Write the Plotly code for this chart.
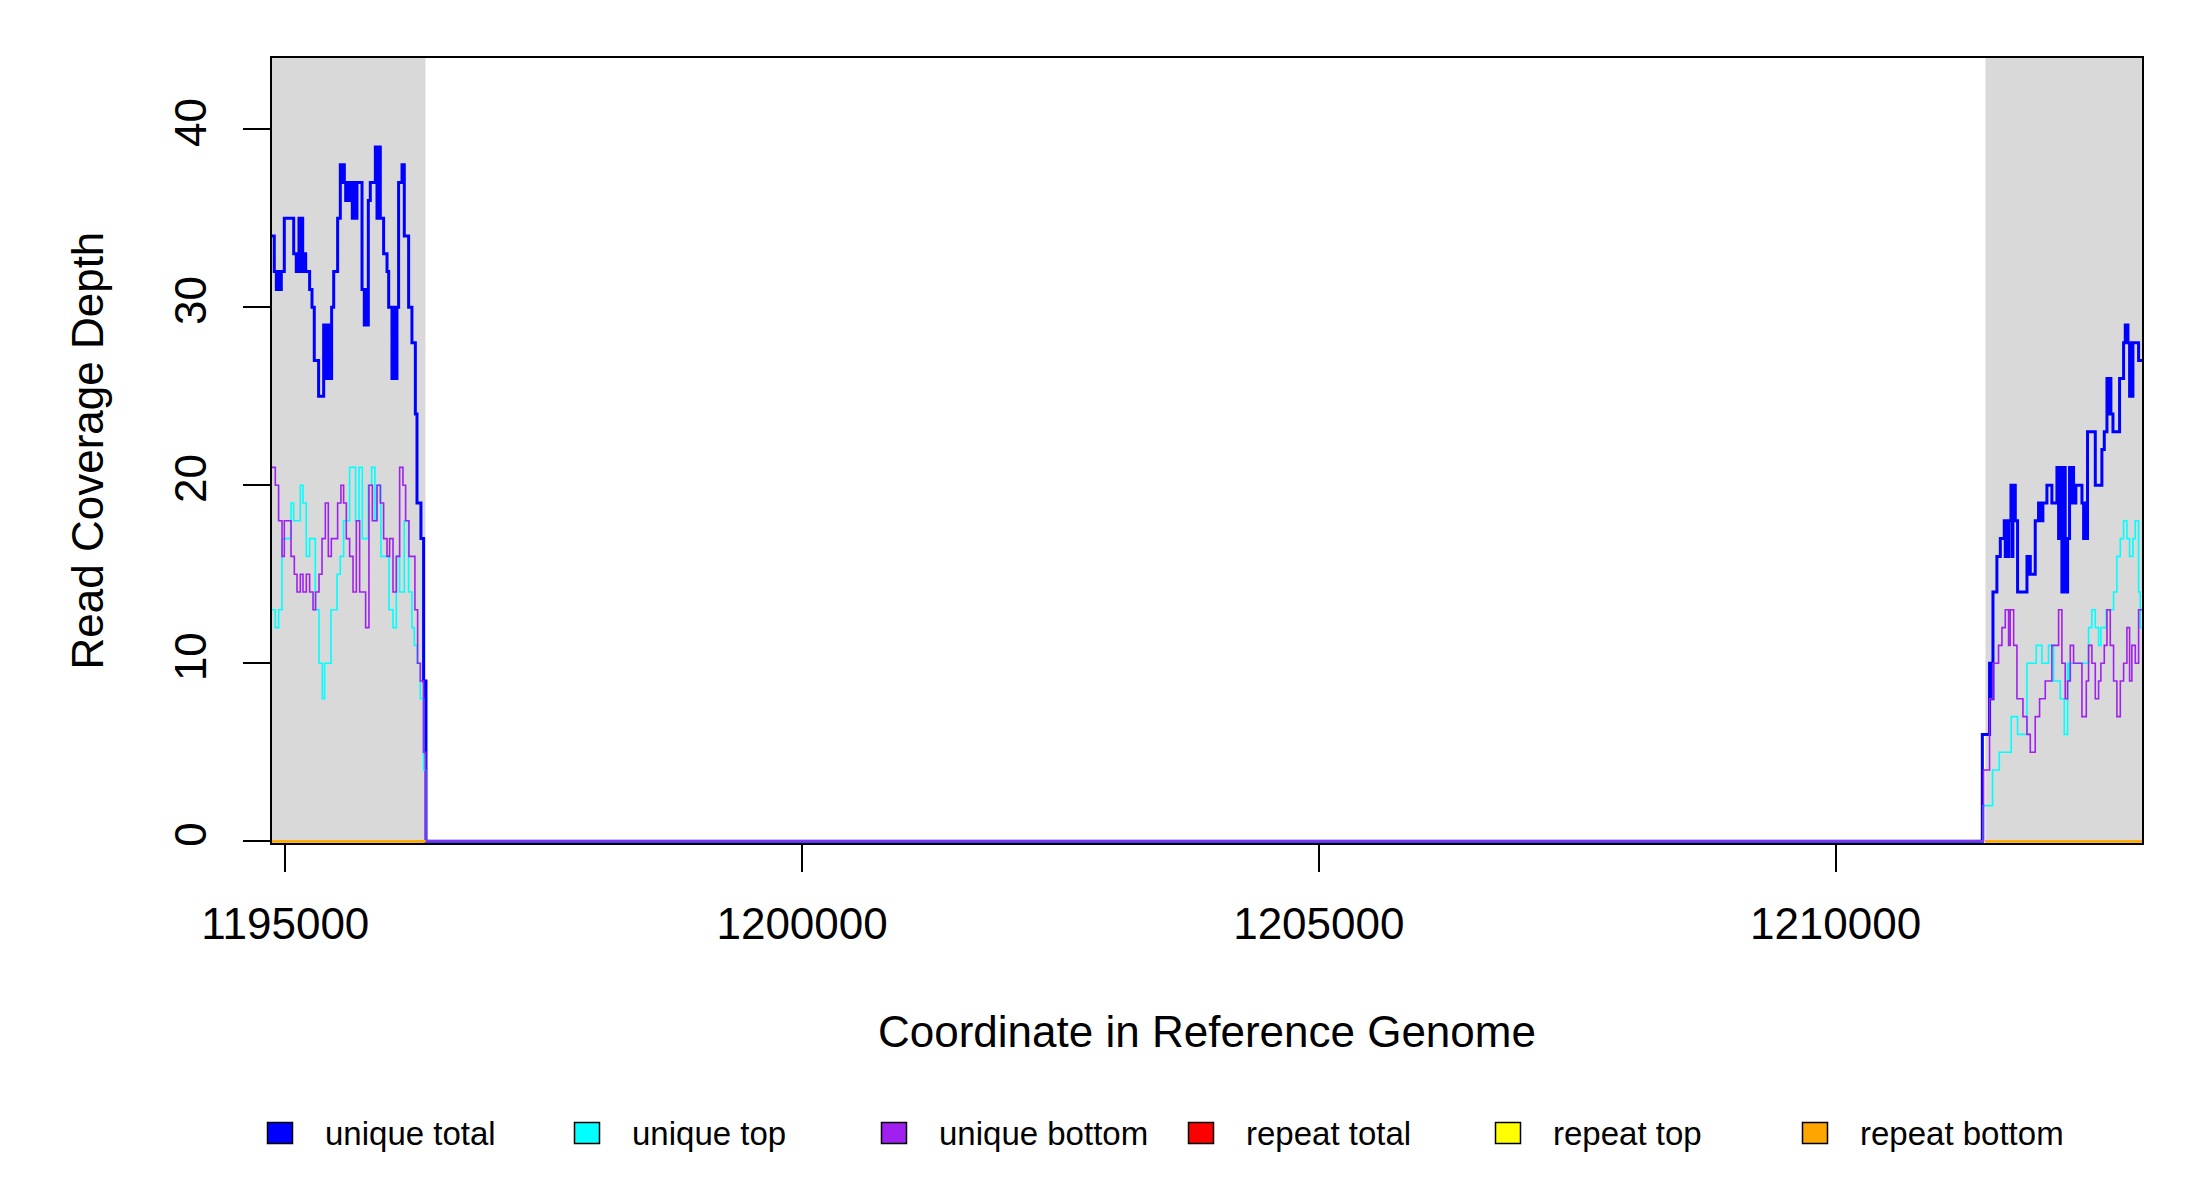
import plotly.graph_objects as go

# genome window shown and the two flanking (shaded) regions
x_start = 1194871
x_end = 1212965
flank_left = [1194871, 1196356]
flank_right = [1211450, 1212965]

# step data: coordinate where each step begins, and the depth from there on
total_x = [1194871, 1194893, 1194913, 1194922, 1194932, 1194942, 1194951, 1194961,
           1194990, 1195081, 1195106, 1195132, 1195145, 1195158, 1195168, 1195177,
           1195197, 1195235, 1195258, 1195280, 1195322, 1195371, 1195384, 1195397,
           1195409, 1195422, 1195435, 1195448, 1195468, 1195506, 1195532, 1195545,
           1195558, 1195571, 1195584, 1195597, 1195609, 1195622, 1195648, 1195661,
           1195674, 1195693, 1195742, 1195764, 1195777, 1195790, 1195803, 1195822,
           1195871, 1195887, 1195903, 1195919, 1195951, 1195984, 1196000, 1196032,
           1196048, 1196064, 1196080, 1196096, 1196129, 1196137, 1196145, 1196151,
           1196193, 1196225, 1196258, 1196274, 1196312, 1196338, 1196345, 1196351,
           1196361,
           1211420, 1211490, 1211497, 1211503, 1211510, 1211523, 1211561, 1211594,
           1211632, 1211642, 1211652, 1211664, 1211674, 1211697, 1211706, 1211716,
           1211739, 1211761, 1211852, 1211860, 1211868, 1211884, 1211932, 1211964,
           1211974, 1211985, 1211997, 1212006, 1212045, 1212093, 1212142, 1212158,
           1212174, 1212190, 1212206, 1212222, 1212245, 1212264, 1212278, 1212287,
           1212303, 1212315, 1212325, 1212384, 1212400, 1212416, 1212426, 1212438,
           1212513, 1212577, 1212600, 1212626, 1212642, 1212650, 1212664, 1212684,
           1212748, 1212787, 1212803, 1212811, 1212819, 1212829, 1212845, 1212858,
           1212867, 1212877, 1212932]
total_y = [34, 32, 31, 32, 31, 32, 31, 32,
           35, 33, 32, 35, 32, 35, 32, 33,
           32, 31, 30, 27, 25, 29, 26, 29,
           26, 29, 26, 30, 32, 35, 38, 37,
           38, 37, 36, 37, 36, 37, 35, 37,
           35, 37, 31, 29, 31, 29, 36, 37,
           39, 35, 39, 35, 33, 32, 30, 26,
           30, 26, 30, 37, 38, 37, 38, 34,
           30, 28, 24, 19, 17, 9, 5, 9,
           0,
           6, 10, 8, 10, 8, 14, 16, 17,
           18, 16, 18, 16, 18, 20, 16, 20,
           18, 14, 16, 15, 16, 15, 18, 19,
           18, 19, 18, 19, 20, 19, 21, 17,
           21, 14, 21, 14, 17, 21, 19, 21,
           20, 19, 20, 19, 17, 19, 17, 23,
           20, 22, 23, 26, 24, 26, 24, 23,
           26, 28, 29, 28, 29, 28, 25, 28,
           25, 28, 27]

top_x = [1194871, 1194903, 1194935, 1194968, 1195055, 1195081, 1195145, 1195171,
         1195203, 1195235, 1195290, 1195326, 1195358, 1195380, 1195442, 1195500,
         1195532, 1195564, 1195622, 1195680, 1195713, 1195745, 1195803, 1195835,
         1195867, 1195887, 1195925, 1196003, 1196042, 1196074, 1196106, 1196151,
         1196193, 1196225, 1196248, 1196274, 1196306, 1196338, 1196358,
         1211430, 1211519, 1211584, 1211700, 1211761, 1211852, 1211942, 1211997,
         1212061, 1212110, 1212174, 1212213, 1212245, 1212255, 1212271, 1212448,
         1212480, 1212513, 1212545, 1212567, 1212619, 1212690, 1212722, 1212755,
         1212787, 1212819, 1212845, 1212877, 1212900, 1212932, 1212948]
top_y = [13, 12, 13, 17, 19, 18, 20, 19,
         16, 17, 13, 10, 8, 10, 13, 15,
         16, 18, 21, 18, 21, 17, 20, 21,
         18, 20, 16, 13, 12, 16, 14, 18,
         14, 12, 11, 10, 8, 4, 0,
         2, 4, 5, 7, 6, 10, 11, 10,
         11, 9, 8, 6, 10, 9, 10, 12,
         13, 12, 11, 12, 13, 14, 16, 17,
         18, 17, 16, 17, 18, 14, 12]

bottom_x = [1194871, 1194903, 1194935, 1194968, 1194990, 1195055, 1195087, 1195113,
            1195145, 1195171, 1195203, 1195235, 1195268, 1195293, 1195326, 1195355,
            1195387, 1195416, 1195445, 1195506, 1195538, 1195564, 1195590, 1195622,
            1195655, 1195687, 1195719, 1195777, 1195809, 1195842, 1195887, 1195919,
            1195951, 1195984, 1196009, 1196042, 1196074, 1196106, 1196138, 1196164,
            1196196, 1196254, 1196280, 1196306, 1196338, 1196358,
            1211432, 1211490, 1211523, 1211577, 1211610, 1211642, 1211674, 1211690,
            1211723, 1211755, 1211813, 1211852, 1211884, 1211932, 1211974, 1212029,
            1212093, 1212158, 1212190, 1212222, 1212245, 1212271, 1212303, 1212384,
            1212426, 1212448, 1212480, 1212513, 1212545, 1212567, 1212600, 1212626,
            1212658, 1212690, 1212722, 1212755, 1212787, 1212819, 1212845, 1212867,
            1212900, 1212932]
bottom_y = [21, 20, 18, 16, 18, 16, 15, 14,
            15, 14, 15, 14, 13, 14, 15, 17,
            19, 16, 17, 19, 20, 19, 17, 16,
            14, 18, 14, 12, 20, 18, 20, 19,
            17, 16, 17, 14, 16, 21, 20, 18,
            16, 13, 10, 9, 5, 0,
            4, 8, 10, 11, 12, 13, 11, 13,
            11, 8, 7, 6, 5, 7, 8, 9,
            11, 13, 10, 8, 9, 11, 10, 7,
            9, 11, 10, 8, 9, 10, 11, 13,
            11, 9, 7, 9, 10, 12, 9, 11,
            10, 13]

# repeat coverage is zero across both flanks
repeat_total = [0, 0]
repeat_top = [0, 0]
repeat_bottom = [0, 0]

series_names = ['unique total', 'unique top', 'unique bottom',
                'repeat total', 'repeat top', 'repeat bottom']
series_colors = ['#0000FF', '#00FFFF', '#A020F0', '#FF0000', '#FFFF00', '#FFA500']

y_ticks = [0, 10, 20, 30, 40]
x_ticks = [1195000, 1200000, 1205000, 1210000]

font_name = 'Liberation Sans'

# page geometry: the html body adds an 8px margin, so the figure is a bit
# smaller than the window and all screen positions are shifted by OFF
OFF = 8
W, H = 2200 - 2 * OFF, 1200 - 2 * OFF
plot_left, plot_right, plot_top, plot_bottom = 272, 2142, 58, 843   # screen px
L, T = plot_left - OFF, plot_top - OFF
R = W - (plot_right - OFF)
B = H - (plot_bottom - OFF)
pw, ph = plot_right - plot_left, plot_bottom - plot_top


def px_x(px):
    return (px - plot_left) / pw


def px_y(py):
    return (plot_bottom - py) / ph


def make_step(x, y, color, width):
    # extend the last step to the right edge of the window
    return go.Scatter(x=x + [x_end],
                      y=y + [y[-1]],
                      mode='lines',
                      line=dict(color=color, width=width, shape='hv'),
                      hoverinfo='x+y',
                      showlegend=False)


def make_flat(values, color, width):
    xs = flank_left + [None] + flank_right
    ys = values + [None] + values
    return go.Scatter(x=xs,
                      y=ys,
                      mode='lines',
                      line=dict(color=color, width=width),
                      hoverinfo='skip',
                      showlegend=False)


fig = go.Figure()

fig.add_trace(make_step(total_x, total_y, series_colors[0], 3))
fig.add_trace(make_step(top_x, top_y, series_colors[1], 1.6))
fig.add_trace(make_step(bottom_x, bottom_y, series_colors[2], 1.6))
fig.add_trace(make_flat(repeat_total, series_colors[3], 2))
fig.add_trace(make_flat(repeat_top, series_colors[4], 2))
fig.add_trace(make_flat(repeat_bottom, series_colors[5], 2))

# shaded flanks
for fl in [flank_left, flank_right]:
    fig.add_shape(type='rect', xref='x', yref='paper',
                  x0=fl[0], x1=fl[1], y0=0, y1=1,
                  fillcolor='#D9D9D9', line_width=0, layer='below')

# legend drawn R-style along the bottom
annotations = []
for i, (name, col) in enumerate(zip(series_names, series_colors)):
    cx = 280 + 307 * i
    fig.add_shape(type='rect', xref='paper', yref='paper',
                  x0=px_x(cx - 12.5), x1=px_x(cx + 12.5),
                  y0=px_y(1143.5), y1=px_y(1122.5),
                  fillcolor=col, line=dict(color='black', width=1.5))
    annotations.append(dict(text=name, xref='paper', yref='paper',
                            x=px_x(cx + 43), y=px_y(1133),
                            xanchor='left', yanchor='middle', showarrow=False,
                            font=dict(size=33, color='black', family=font_name)))

annotations.append(dict(text='Coordinate in Reference Genome', xref='paper', yref='paper',
                        x=0.5, y=px_y(1031), xanchor='center', yanchor='middle',
                        showarrow=False,
                        font=dict(size=44, color='black', family=font_name)))
annotations.append(dict(text='Read Coverage Depth', xref='paper', yref='paper',
                        x=px_x(87), y=0.5, xanchor='center', yanchor='middle',
                        textangle=-90, showarrow=False,
                        font=dict(size=44, color='black', family=font_name)))

fig.update_layout(width=W, height=H,
                  margin=dict(l=L, r=R, t=T, b=B, autoexpand=False),
                  paper_bgcolor='white', plot_bgcolor='white',
                  font=dict(family=font_name, color='black'),
                  annotations=annotations,
                  showlegend=False)

fig.update_xaxes(range=[x_start, x_end], tickvals=x_ticks, tickformat='d',
                 ticks='outside', ticklen=27, tickwidth=1.5, tickcolor='black',
                 showline=True, linecolor='black', linewidth=1.5, mirror=True,
                 showgrid=False, zeroline=False, layer='below traces',
                 tickfont=dict(size=44, color='black', family=font_name),
                 ticklabelstandoff=14)
fig.update_yaxes(range=[-0.1, 44], tickvals=y_ticks,
                 ticks='outside', ticklen=27, tickwidth=1.5, tickcolor='black',
                 showline=True, linecolor='black', linewidth=1.5, mirror=True,
                 showgrid=False, zeroline=False, tickangle=-90, layer='below traces',
                 tickfont=dict(size=44, color='black', family=font_name),
                 ticklabelstandoff=20)

fig.write_html("out.html")
